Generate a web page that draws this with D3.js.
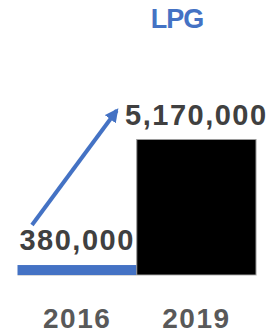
<!DOCTYPE html>
<html>
<head>
<meta charset="utf-8">
<script src="https://cdn.jsdelivr.net/npm/d3@7"></script>
<style>
  body { margin: 0; background: #fff; }
  svg { display: block; }
</style>
</head>
<body>
<script>
  // chart data
  const title = "LPG";
  const years = ["2016", "2019"];
  const values = [380000, 5170000];

  const width = 267, height = 334;
  const barColors = ["#4472C4", "#000000"];
  const fontFamily = "'Liberation Sans', Arial, sans-serif";

  const svg = d3.select("body")
    .append("svg")
    .attr("width", width)
    .attr("height", height)
    .attr("viewBox", [0, 0, width, height]);

  const x = d3.scaleBand()
    .domain(years)
    .range([17.5, 256])
    .paddingInner(0)
    .paddingOuter(0);

  const y = d3.scaleLinear()
    .domain([0, d3.max(values)])
    .range([275, 139.5]);

  // arrow marker
  svg.append("defs").append("marker")
    .attr("id", "head")
    .attr("viewBox", "0 0 10 10")
    .attr("refX", 8)
    .attr("refY", 5)
    .attr("markerWidth", 3.4)
    .attr("markerHeight", 3.4)
    .attr("orient", "auto")
    .append("path")
    .attr("d", "M0,0 L10,5 L0,10 Z")
    .attr("fill", "#4472C4");

  // title
  svg.append("text")
    .attr("x", 177)
    .attr("y", 28)
    .attr("text-anchor", "middle")
    .attr("font-family", fontFamily)
    .attr("font-weight", "bold")
    .attr("font-size", 27)
    .attr("letter-spacing", -1)
    .attr("fill", "#4472C4")
    .text(title);

  // bars
  svg.selectAll("rect.bar")
    .data(values)
    .enter()
    .append("rect")
    .attr("class", "bar")
    .attr("x", (d, i) => x(years[i]))
    .attr("y", d => y(d))
    .attr("width", x.bandwidth())
    .attr("height", d => y(0) - y(d))
    .attr("fill", (d, i) => barColors[i])
    .attr("stroke", (d, i) => i == 1 ? "#9a9a9a" : "none")
    .attr("stroke-width", 1);

  // baseline
  svg.append("line")
    .attr("x1", x.range()[0])
    .attr("x2", x.range()[1])
    .attr("y1", y(0) + 0.5)
    .attr("y2", y(0) + 0.5)
    .attr("stroke", "#d9d9d9")
    .attr("stroke-width", 1);

  // value labels
  svg.selectAll("text.val")
    .data(values)
    .enter()
    .append("text")
    .attr("class", "val")
    .attr("x", (d, i) => x(years[i]) + x.bandwidth() / 2)
    .attr("y", d => y(d) - 15)
    .attr("text-anchor", "middle")
    .attr("font-family", fontFamily)
    .attr("font-weight", "bold")
    .attr("font-size", 29)
    .attr("letter-spacing", 1.5)
    .attr("fill", "#404040")
    .text(d => d3.format(",")(d));

  // category labels
  const axis = d3.axisBottom(x).tickSize(0).tickPadding(0);
  const g = svg.append("g")
    .attr("transform", "translate(0,328)")
    .call(axis);
  g.select(".domain").remove();
  g.selectAll("text")
    .attr("dy", 0)
    .attr("font-family", fontFamily)
    .attr("font-weight", "bold")
    .attr("font-size", 28)
    .attr("letter-spacing", 1.5)
    .attr("fill", "#595959");

  // growth arrow
  svg.append("line")
    .attr("x1", x(years[0]) + 14.5)
    .attr("y1", y(values[0]) - 40)
    .attr("x2", x(years[1]) - 20)
    .attr("y2", y(values[1]) - 29)
    .attr("stroke", "#4472C4")
    .attr("stroke-width", 4)
    .attr("marker-end", "url(#head)");
</script>
</body>
</html>
